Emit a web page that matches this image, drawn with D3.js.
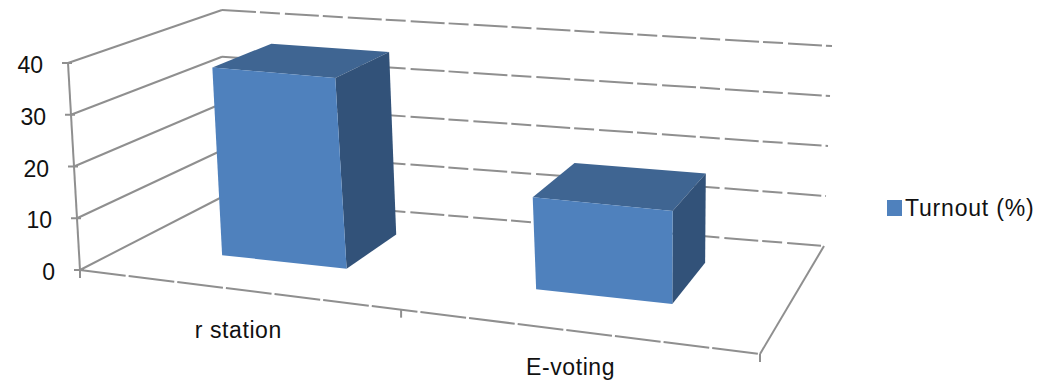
<!DOCTYPE html>
<html>
<head>
<meta charset="utf-8">
<script src="https://cdn.jsdelivr.net/npm/d3@7/dist/d3.min.js"></script>
<style>
html,body{margin:0;padding:0;background:#fff}
svg{display:block}
text{font-family:"Liberation Sans",Arial,sans-serif;font-size:23px;fill:#111}
</style>
</head>
<body>
<svg id="chart" width="1037" height="381"></svg>
<script>
// Chart data
const categories = ["r station", "E-voting"];
const turnout = [37, 17.5];
const valueTicks = [0, 10, 20, 30, 40];
const categoryTicks = [0, 0.5, 1];
const seriesName = "Turnout (%)";

// Corners of the 3D plot box on screen: [front-left, front-right, back-right, back-left]
const floorCorners = [[80,270],[760,354],[824,246],[222,197]];
const ceilingCorners = [[68,63],[772,133],[832,46],[222,10]];

const colors = {front:"#4f81bd", top:"#3f6592", side:"#325279", grid:"#8f8f8f"};

// Homography taking the unit square onto a quadrilateral
function homography(q){
  const [[x0,y0],[x1,y1],[x2,y2],[x3,y3]] = q;
  const dx1=x1-x2, dx2=x3-x2, sx=x0-x1+x2-x3;
  const dy1=y1-y2, dy2=y3-y2, sy=y0-y1+y2-y3;
  const det=dx1*dy2-dx2*dy1;
  const g=(sx*dy2-dx2*sy)/det, h=(dx1*sy-sx*dy1)/det;
  const a=x1-x0+g*x1, b=x3-x0+h*x3, c=x0;
  const d=y1-y0+g*y1, e=y3-y0+h*y3, f=y0;
  return (u,v)=>{
    const w=g*u+h*v+1;
    return [(a*u+b*v+c)/w,(d*u+e*v+f)/w];
  };
}
const floorMap = homography(floorCorners);
const ceilingMap = homography(ceilingCorners);

const valueScale = d3.scaleLinear().domain([0,40]).range([0,1]);
const catScale = d3.scaleBand().domain(categories).range([0.0205,0.9985]).paddingInner(0.593).paddingOuter(0.2965);
const depthScale = d3.scaleLinear().domain([0,1]).range([0.31,0.72]);
// Evens out the foreshortening along the category axis
const widthWarp = d3.scaleLinear().domain([0,0.5,1]).range([0,0.545,1]);

// Screen position of (category position, depth, value)
function project(u,v,val){
  const w=widthWarp(u), a=floorMap(w,v), b=ceilingMap(w,v), t=valueScale(val);
  return [a[0]+(b[0]-a[0])*t, a[1]+(b[1]-a[1])*t];
}

const svg = d3.select("#chart");
const line = d3.line();

// Walls and gridlines: the side wall is continuous, the back wall is broken up
const gridG = svg.append("g").attr("fill","none").attr("stroke",colors.grid).attr("stroke-width",2);
gridG.selectAll("path.side").data(valueTicks).join("path")
  .attr("class","side")
  .attr("d",t=>line([project(0,0,t),project(0,1,t)]));
gridG.selectAll("path.back").data(valueTicks).join("path")
  .attr("class","back")
  .attr("stroke-dasharray","34 4 20 5")
  .attr("d",t=>line([project(0,1,t),project(1,1,t)]));

// Floor edges
gridG.append("path").attr("stroke-dasharray","46 3").attr("d",line([project(0,0,0),project(1,0,0)]));
gridG.append("path").attr("d",line([project(1,0,0),project(1,1,0)]));

// Value axis with tick marks
gridG.append("path").attr("d",line([project(0,0,40),project(0,0,0)]));
gridG.selectAll("path.vtick").data(valueTicks).join("path")
  .attr("class","vtick")
  .attr("d",t=>{const p=project(0,0,t);return line([[p[0]-6,p[1]],[p[0]+4,p[1]]]);});

// Category tick marks along the front edge
gridG.selectAll("path.ctick").data(categoryTicks).join("path")
  .attr("class","ctick")
  .attr("d",u=>{const p=project(u,0,0);return line([p,[p[0],p[1]+8]]);});

// Value labels
svg.selectAll("text.vlabel").data(valueTicks).join("text")
  .attr("class","vlabel")
  .attr("text-anchor","end")
  .attr("x",t=>project(0,0,t)[0]-25)
  .attr("y",t=>project(0,0,t)[1]+10)
  .text(t=>t);

// Bars: top, side and front faces of each box
const bars = svg.selectAll("g.bar").data(categories.map((c,i)=>({c,v:turnout[i]}))).join("g").attr("class","bar");
const corners = d=>{
  const u0=catScale(d.c), u1=u0+catScale.bandwidth(), v0=depthScale(0), v1=depthScale(1);
  return {u0,u1,v0,v1};
};
bars.append("path").attr("fill",colors.top).attr("d",d=>{
  const k=corners(d);
  return line([project(k.u0,k.v0,d.v),project(k.u1,k.v0,d.v),project(k.u1,k.v1,d.v),project(k.u0,k.v1,d.v)])+"Z";
});
bars.append("path").attr("fill",colors.side).attr("d",d=>{
  const k=corners(d);
  return line([project(k.u1,k.v0,0),project(k.u1,k.v1,0),project(k.u1,k.v1,d.v),project(k.u1,k.v0,d.v)])+"Z";
});
bars.append("path").attr("fill",colors.front).attr("d",d=>{
  const k=corners(d);
  return line([project(k.u0,k.v0,0),project(k.u1,k.v0,0),project(k.u1,k.v0,d.v),project(k.u0,k.v0,d.v)])+"Z";
});

// Category labels sit a fixed distance under the front edge; the last one stays clear of the page bottom
const labelDrop = d3.scaleOrdinal().domain(categories).range([48,44]);
svg.selectAll("text.clabel").data(categories).join("text")
  .attr("class","clabel")
  .attr("text-anchor","middle")
  .attr("letter-spacing","0.6")
  .attr("x",c=>project(catScale(c)+catScale.bandwidth()/2,0,0)[0])
  .attr("y",c=>project(catScale(c)+catScale.bandwidth()/2,0,0)[1]+labelDrop(c))
  .text(c=>c);

// Legend
const legend = svg.append("g");
legend.append("rect").attr("x",887).attr("y",200).attr("width",15).attr("height",16).attr("fill",colors.front);
legend.append("text").attr("x",905).attr("y",216).attr("letter-spacing","0.8").text(seriesName);
</script>
</body>
</html>
